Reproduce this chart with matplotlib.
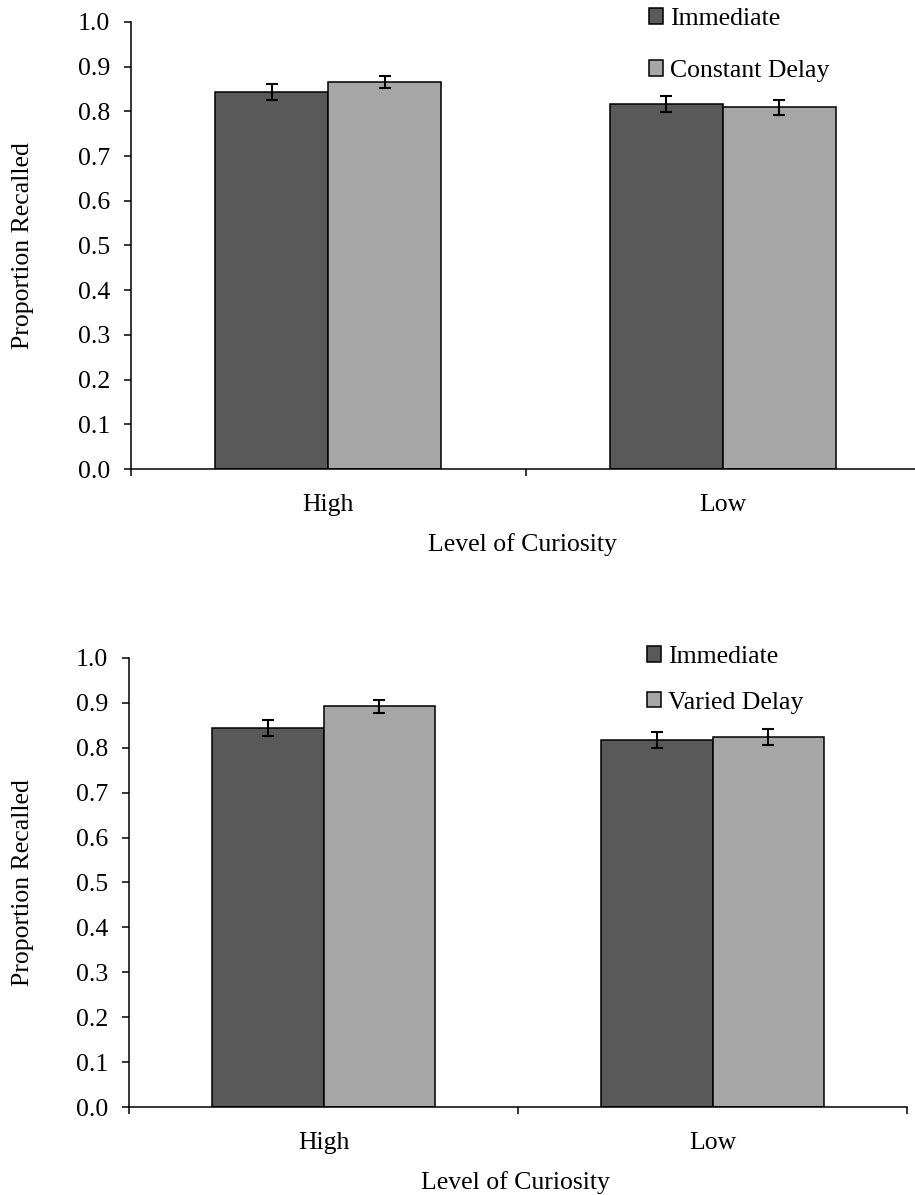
import numpy as np
import matplotlib
matplotlib.use('Agg')
import matplotlib.pyplot as plt
from matplotlib import ticker
from matplotlib.patches import Patch

plt.rcParams['font.family'] = ['Liberation Serif', 'DejaVu Serif']
plt.rcParams['font.size'] = 18.5

categories = ['High', 'Low']

# top panel: immediate vs constant delay
top_immediate = [0.843, 0.816]
top_immediate_err = [0.0186, 0.018]
top_constant = [0.866, 0.809]
top_constant_err = [0.0134, 0.0175]

# bottom panel: immediate vs varied delay
bot_immediate = [0.844, 0.817]
bot_immediate_err = [0.0185, 0.0185]
bot_varied = [0.892, 0.824]
bot_varied_err = [0.0138, 0.0175]

dark = '#595959'
light = '#a6a6a6'

W, H = 915, 1195
fig = plt.figure(figsize=(W / 100, H / 100), dpi=100)


def draw_panel(rect, imm, imm_err, other, other_err, other_name, leg_xy, leg_spacing):
    ax = fig.add_axes(rect)
    x = np.arange(len(categories))
    w = 0.287
    ax.bar(x - w / 2, imm, w, color=dark, edgecolor='black', linewidth=1.1, zorder=2)
    ax.bar(x + w / 2, other, w, color=light, edgecolor='black', linewidth=1.1, zorder=2)
    ax.errorbar(x - w / 2, imm, yerr=imm_err, fmt='none', ecolor='black',
                elinewidth=1.5, capsize=4.5, capthick=1.5, zorder=3)
    ax.errorbar(x + w / 2, other, yerr=other_err, fmt='none', ecolor='black',
                elinewidth=1.5, capsize=4.5, capthick=1.5, zorder=3)

    ax.set_xlim(-0.5, 1.5)
    ax.set_ylim(0, 1.0)
    ax.yaxis.set_major_locator(ticker.MultipleLocator(0.1))
    ax.yaxis.set_major_formatter(ticker.FormatStrFormatter('%.1f'))
    ax.tick_params(axis='y', direction='out', length=5, width=1.1, pad=10)

    # boundary ticks as major, category names on minor ticks
    ax.set_xticks([-0.5, 0.5, 1.5])
    ax.set_xticklabels([])
    ax.set_xticks(x, minor=True)
    ax.set_xticklabels(categories, minor=True)
    ax.tick_params(axis='x', which='major', direction='out', length=5, width=1.1)
    ax.tick_params(axis='x', which='minor', length=0, pad=18)

    for s in ['top', 'right']:
        ax.spines[s].set_visible(False)
    for s in ['left', 'bottom']:
        ax.spines[s].set_linewidth(1.1)

    ax.set_xlabel('Level of Curiosity')
    ax.xaxis.label.set_verticalalignment('center')
    ax_h_px = rect[3] * H
    ax_w_px = rect[2] * W
    ax.xaxis.set_label_coords(0.5 - 3 / ax_w_px, -76 / ax_h_px)

    ax.set_ylabel('Proportion Recalled')
    ax.yaxis.label.set_verticalalignment('center')
    ax.yaxis.set_label_coords(-(rect[0] * W - 23) / ax_w_px, 0.5)

    handles = [Patch(facecolor=dark, edgecolor='black', linewidth=1.1),
               Patch(facecolor=light, edgecolor='black', linewidth=1.1)]
    fig.legend(handles, ['Immediate', other_name], loc='upper left',
               bbox_to_anchor=leg_xy, bbox_transform=fig.transFigure,
               frameon=False, borderpad=0, borderaxespad=0,
               handlelength=0.55, handleheight=0.55, handletextpad=0.25,
               labelspacing=leg_spacing)
    return ax


draw_panel([131 / W, 1 - 469 / H, 789 / W, 447 / H],
           top_immediate, top_immediate_err, top_constant, top_constant_err,
           'Constant Delay', (649 / W, 1 - 8 / H), 1.18)
draw_panel([129 / W, 1 - 1107 / H, 778 / W, 449 / H],
           bot_immediate, bot_immediate_err, bot_varied, bot_varied_err,
           'Varied Delay', (647 / W, 1 - 646 / H), 0.92)

fig.savefig('out.png', dpi=100)
